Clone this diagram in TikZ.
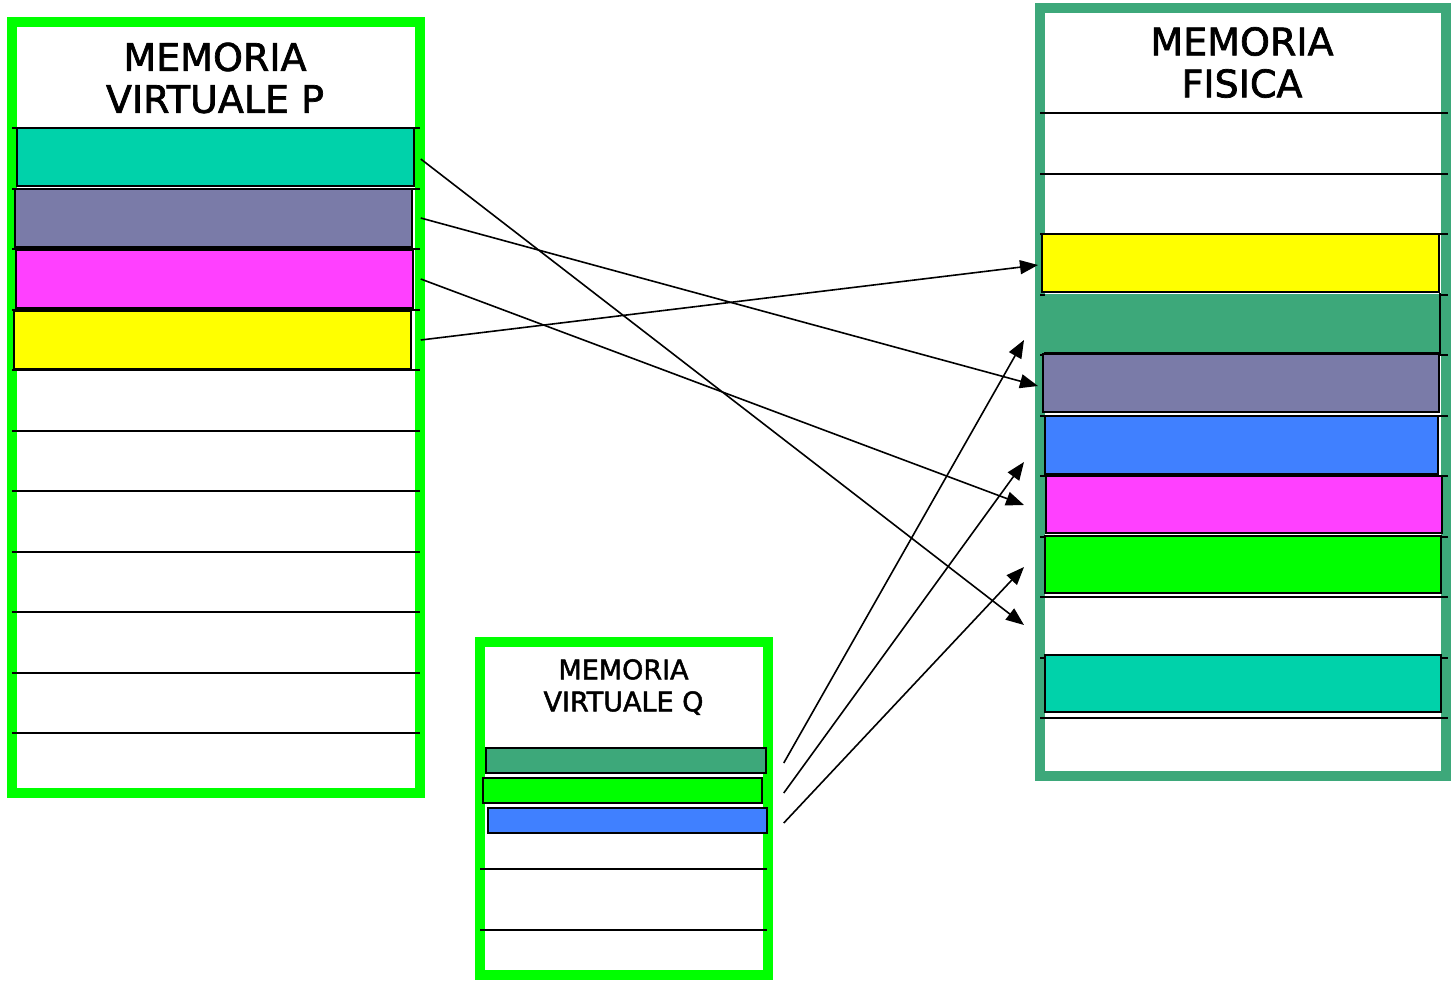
\documentclass[tikz,border=0pt]{standalone}
\usepackage{fontspec}
\setmainfont{DejaVu Sans}[FakeBold=1.8]
\usetikzlibrary{arrows.meta}

\definecolor{framegreen}{HTML}{00FF00}
\definecolor{physframe}{HTML}{3DA87A}
\definecolor{slotteal}{HTML}{00D2AA}
\definecolor{slotpurple}{HTML}{7A7BA8}
\definecolor{slotmagenta}{HTML}{FF40FF}
\definecolor{slotyellow}{HTML}{FFFF00}
\definecolor{slotdgreen}{HTML}{3DA87A}
\definecolor{slotgreen}{HTML}{00FF00}
\definecolor{slotblue}{HTML}{4080FF}

\tikzset{
  memframe/.style={draw=#1, line width=10pt, fill=white, inner sep=0pt, outer sep=0pt, rectangle},
  slotline/.style={line width=2pt, black},
  slotbox/.style={draw=black, line width=1.5pt, fill=#1, inner sep=0pt, rectangle},
  bigslot/.style={slotbox=#1, minimum width=397pt, minimum height=58pt},
  smallslot/.style={slotbox=#1, minimum width=279pt, minimum height=25pt},
  bigtitle/.style={align=center, inner sep=0pt, font=\fontsize{38}{42}\selectfont},
  smalltitle/.style={align=center, inner sep=0pt, font=\fontsize{27}{32}\selectfont},
  maparrow/.style={line width=1.6pt, -{Triangle[length=18pt,width=14pt]}}
}

\begin{document}
\begin{tikzpicture}[x=1pt, y=-1pt]
  \useasboundingbox (0,0) rectangle (1451,980);

  % memory frames
  \node[memframe=framegreen, minimum width=408pt, minimum height=771pt] (P) at (216,407.5) {};
  \node[memframe=physframe, minimum width=406pt, minimum height=768pt] (F) at (1243,392) {};
  \node[memframe=framegreen, minimum width=288pt, minimum height=333pt] (Q) at (624,808.5) {};

  % page separators
  \foreach \k in {0,...,10} {
    \draw[slotline] (P.west |- 0,{128+60.5*\k}) -- (P.east |- 0,{128+60.5*\k});
    \draw[slotline] (F.west |- 0,{113+60.5*\k}) -- (1448,{113+60.5*\k});
  }
  \draw[slotline] (Q.west |- 0,869) -- (767,869);
  \draw[slotline] (Q.west |- 0,930) -- (767,930);

  % titles
  \node[bigtitle] (Ptitle) at (215,78) {MEMORIA\\VIRTUALE P};
  \node[bigtitle] (Ftitle) at (1242,62.5) {MEMORIA\\FISICA};
  \node[smalltitle] (Qtitle) at (623.5,687) {MEMORIA\\VIRTUALE Q};

  % pages of P
  \node[bigslot=slotteal]    (pteal)    at (215.5,157) {};
  \node[bigslot=slotpurple]  (ppurple)  at (213.5,218) {};
  \node[bigslot=slotmagenta] (pmagenta) at (214.5,279) {};
  \node[bigslot=slotyellow]  (pyellow)  at (212.5,340) {};

  % frames of physical memory
  \node[bigslot=slotyellow]  (fyellow)  at (1240.5,263) {};
  \node[bigslot=slotdgreen, draw=none, minimum width=394pt] (fdgreen) at (1242,323) {};
  \draw[line width=1.5pt] (fdgreen.north east) -- (fdgreen.south east) -- (fdgreen.south west);
  \node[bigslot=slotpurple, minimum width=396pt]  (fpurple) at (1241,383) {};
  \node[bigslot=slotblue, minimum width=393pt]    (fblue)   at (1241.5,445) {};
  \node[bigslot=slotmagenta, minimum width=396pt, minimum height=57pt] (fmagenta) at (1244,504.5) {};
  \node[bigslot=slotgreen, minimum width=396pt, minimum height=57pt]   (fgreen)   at (1243,564.5) {};
  \node[bigslot=slotteal, minimum width=396pt, minimum height=57pt]    (fteal)    at (1243,683.5) {};

  % pages of Q
  \node[smallslot=slotdgreen, minimum width=280pt] (qdgreen) at (626,760.5) {};
  \node[smallslot=slotgreen] (qgreen) at (622.5,790.5) {};
  \node[smallslot=slotblue]  (qblue)  at (627.5,820.5) {};

  % arrow tips
  \coordinate (t1) at (1024,625);
  \coordinate (t2) at (1038,386);
  \coordinate (t3) at (1024,505);
  \coordinate (t4) at (1038,265);
  \coordinate (t5) at (1024,340);
  \coordinate (t6) at (1024,462);
  \coordinate (t7) at (1024,567);

  % page-to-frame mappings
  \draw[maparrow] ([xshift=6pt,yshift=-2pt]pteal.east) -- (t1);
  \draw[maparrow] ([xshift=8pt]ppurple.east) -- (t2);
  \draw[maparrow] ([xshift=7pt]pmagenta.east) -- (t3);
  \draw[maparrow] ([xshift=9pt]pyellow.east) -- (t4);
  \draw[maparrow] ([xshift=17pt,yshift=-2.5pt]qdgreen.east) -- (t5);
  \draw[maparrow] ([xshift=21pt,yshift=-2.5pt]qgreen.east) -- (t6);
  \draw[maparrow] ([xshift=16pt,yshift=-2.5pt]qblue.east) -- (t7);
\end{tikzpicture}
\end{document}
